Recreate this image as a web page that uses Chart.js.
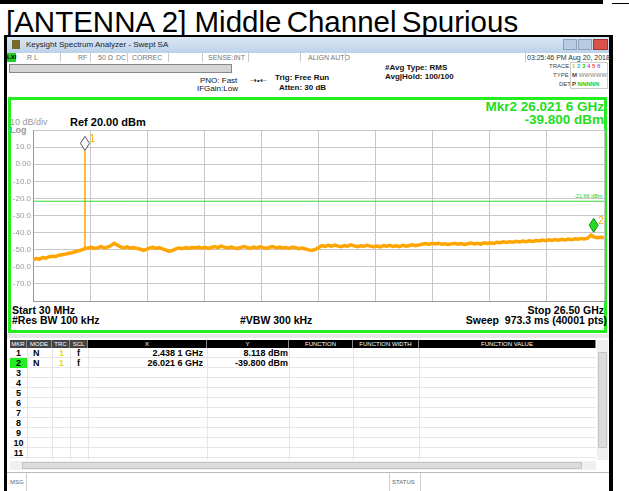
<!DOCTYPE html>
<html>
<head>
<meta charset="utf-8">
<script src="https://cdn.jsdelivr.net/npm/chart.js@4.4.1/dist/chart.umd.min.js"></script>
<style>
  html, body { margin: 0; padding: 0; background: #fff; }
  body { width: 629px; height: 491px; position: relative; overflow: hidden; font-family: "Liberation Sans", Arial, sans-serif; }
  .abs { position: absolute; white-space: nowrap; }
  #spectrum { position: absolute; left: 0; top: 0; z-index: 5; pointer-events: none; }
  .sb { font-size: 7px; color: #777; top: 54px; line-height: 8px; }
  .sep { position: absolute; top: 53px; width: 1px; height: 9px; background: #c8c8c8; }
  .info { font-size: 8px; font-weight: bold; color: #111; line-height: 9px; }
  .small { font-size: 6px; color: #444; line-height: 8px; }
  .plotTxt { font-weight: bold; color: #000; font-size: 10.5px; line-height: 11px; }
  .hdr { position: absolute; top: 340px; height: 8px; background: #000; color: #fff; font-size: 6px; line-height: 8px; text-align: center; box-sizing: border-box; border-right: 1px solid #888; }
  .row { position: absolute; left: 10px; width: 586px; height: 10px; border-bottom: 1px solid #e6e6e6; box-sizing: border-box; }
  .cell { position: absolute; font-size: 9px; font-weight: bold; line-height: 10px; color: #000; }
  .vline { position: absolute; top: 348px; height: 112px; width: 1px; background: #e6e6e6; }
</style>
</head>
<body>
<!-- page heading -->
<div class="abs" style="left:0;top:0;width:603px;height:4px;background:#000"></div>
<div class="abs" style="left:612px;top:3px;width:17px;height:1px;background:#000"></div>
<div class="abs" style="left:6px;top:7px;font-size:29.5px;line-height:29px;color:#000">[ANTENNA 2] <span style="word-spacing:-3px">Middle Channel Spurious</span></div>

<!-- analyzer window frame -->
<div class="abs" style="left:4px;top:35px;width:609px;height:456px;background:#000"></div>
<div class="abs" style="left:7px;top:37px;width:602px;height:16px;background:linear-gradient(#dbe7f5,#bcd2ea)"></div>
<div class="abs" style="left:12px;top:40px;width:8px;height:9px;background:#7a6a2a"></div>
<div class="abs" style="left:26px;top:40px;font-size:8px;line-height:10px;color:#222">Keysight Spectrum Analyzer - Swept SA</div>
<div class="abs" style="left:563px;top:39px;width:14px;height:11px;background:#b8cbe2;border:1px solid #8aa0bb;box-sizing:border-box"></div>
<div class="abs" style="left:578px;top:39px;width:14px;height:11px;background:#b8cbe2;border:1px solid #8aa0bb;box-sizing:border-box"></div>
<div class="abs" style="left:593px;top:39px;width:15px;height:11px;background:#d9534a;border:1px solid #a33;box-sizing:border-box"></div>

<!-- status strip -->
<div class="abs" style="left:7px;top:53px;width:602px;height:9px;background:#fff"></div>
<div class="abs" style="left:7px;top:53px;width:9px;height:9px;background:#22cc22;font-size:6px;line-height:9px;color:#000;font-weight:bold">LXI</div>
<div class="abs sb" style="left:27px">R L</div>
<div class="abs sb" style="left:78px">RF</div>
<div class="abs sb" style="left:98px">50 Ω</div>
<div class="abs sb" style="left:116px">DC</div>
<div class="abs sb" style="left:132px">CORREC</div>
<div class="abs sb" style="left:208px">SENSE:INT</div>
<div class="abs sb" style="left:308px">ALIGN AUTO</div>
<div class="abs sb" style="left:527px;color:#333">03:25:46 PM Aug 20, 2018</div>
<div class="sep" style="left:60px"></div>
<div class="sep" style="left:90px"></div>
<div class="sep" style="left:127px"></div>
<div class="sep" style="left:168px"></div>
<div class="sep" style="left:202px"></div>
<div class="sep" style="left:248px"></div>
<div class="sep" style="left:300px"></div>
<div class="sep" style="left:345px"></div>
<div class="sep" style="left:525px"></div>

<!-- settings panel -->
<div class="abs" style="left:7px;top:62px;width:602px;height:35px;background:#fff"></div>
<div class="abs" style="left:9px;top:64px;width:223px;height:9px;background:#d4d4d4;border:1px solid #888;box-sizing:border-box"></div>
<div class="abs info" style="left:200px;top:76px;font-weight:normal">PNO: Fast</div>
<div class="abs info" style="left:197px;top:84px;font-weight:normal">IFGain:Low</div>
<div class="abs info" style="left:250px;top:76px;font-weight:normal">⇢•⇠</div>
<div class="abs info" style="left:275px;top:73px">Trig: Free Run</div>
<div class="abs info" style="left:279px;top:83px">Atten: 30 dB</div>
<div class="abs info" style="left:385px;top:63px">#Avg Type: RMS</div>
<div class="abs info" style="left:385px;top:72px">Avg|Hold: 100/100</div>
<div class="abs small" style="left:549px;top:62px">TRACE</div>
<div class="abs small" style="left:553px;top:71px">TYPE</div>
<div class="abs small" style="left:559px;top:80px">DET</div>
<div class="abs" style="left:570px;top:62px;width:38px;height:27px;border:1px solid #ccc;box-sizing:border-box"></div>
<div class="abs small" style="left:572px;top:62px;font-weight:bold"><span style="color:#e0c000">1</span> <span style="color:#22bbee">2</span> <span style="color:#22cc22">3</span> <span style="color:#ee33ee">4</span> <span style="color:#ff4444">5</span> <span style="color:#9966ff">6</span></div>
<div class="abs small" style="left:572px;top:71px;font-weight:bold">M <span style="color:#aaa">WWWWW</span></div>
<div class="abs small" style="left:572px;top:80px;font-weight:bold">P <span style="color:#22cc22">NNNNN</span></div>

<!-- graph panel -->
<div class="abs" style="left:7px;top:97px;width:602px;height:237px;background:#fff"></div>
<div class="abs" style="left:8px;top:97px;width:599px;height:236px;border:3px solid #22ee22;box-sizing:border-box"></div>
<div class="abs" style="left:10px;top:117px;font-size:9px;line-height:10px;color:#999">10 dB/div</div>
<div class="abs" style="left:10px;top:125px;font-size:9px;line-height:10px;color:#999;font-weight:bold">Log</div>
<div class="abs plotTxt" style="left:70px;top:117px;font-size:11px">Ref 20.00 dBm</div>
<div class="abs" style="right:25px;top:100px;font-size:13.5px;line-height:13px;font-weight:bold;color:#22dd22;text-align:right">Mkr2 26.021 6 GHz<br>-39.800 dBm</div>
<div class="abs" style="left:574px;top:193px;font-size:5.5px;line-height:6px;color:#22cc22">-21.66 dBm</div>
<div class="abs plotTxt" style="left:12px;top:305px">Start 30 MHz</div>
<div class="abs plotTxt" style="left:12px;top:315px">#Res BW 100 kHz</div>
<div class="abs plotTxt" style="left:240px;top:315px">#VBW 300 kHz</div>
<div class="abs plotTxt" style="right:25px;top:305px">Stop 26.50 GHz</div>
<div class="abs plotTxt" style="right:22px;top:315px">Sweep&nbsp; 973.3 ms (40001 pts)</div>

<!-- marker table -->
<div class="abs" style="left:7px;top:334px;width:602px;height:157px;background:#fff"></div>
<div class="abs" style="left:7px;top:334px;width:602px;height:4px;background:#e8e8e8"></div>
<div class="hdr" style="left:10px;width:17px;background:#444">MKR</div>
<div class="hdr" style="left:27px;width:25px;background:#444">MODE</div>
<div class="hdr" style="left:52px;width:18px;background:#444">TRC</div>
<div class="hdr" style="left:70px;width:18px;background:#444">SCL</div>
<div class="hdr" style="left:88px;width:119px">X</div>
<div class="hdr" style="left:207px;width:82px">Y</div>
<div class="hdr" style="left:289px;width:64px">FUNCTION</div>
<div class="hdr" style="left:353px;width:66px">FUNCTION WIDTH</div>
<div class="hdr" style="left:419px;width:177px">FUNCTION VALUE</div>
<div id="rows"></div>
<div class="vline" style="left:27px"></div>
<div class="vline" style="left:52px"></div>
<div class="vline" style="left:70px"></div>
<div class="vline" style="left:88px"></div>
<div class="vline" style="left:207px"></div>
<div class="vline" style="left:289px"></div>
<div class="vline" style="left:353px"></div>
<div class="vline" style="left:419px"></div>
<div class="abs" style="left:597px;top:340px;width:11px;height:120px;background:#f0f0f0"></div>
<div class="abs" style="left:598px;top:352px;width:9px;height:96px;background:#dcdcdc;border:1px solid #c4c4c4;box-sizing:border-box"></div>
<div class="abs" style="left:10px;top:461px;width:586px;height:9px;background:#f0f0f0"></div>
<div class="abs" style="left:22px;top:462px;width:560px;height:7px;background:#dcdcdc;border:1px solid #c4c4c4;box-sizing:border-box"></div>
<div class="abs" style="left:7px;top:472px;width:602px;height:1px;background:#bbb"></div>
<div class="abs" style="left:10px;top:479px;font-size:6px;color:#666">MSG</div>
<div class="abs" style="left:26px;top:473px;width:1px;height:18px;background:#ccc"></div>
<div class="abs" style="left:389px;top:473px;width:1px;height:18px;background:#ccc"></div>
<div class="abs" style="left:392px;top:479px;font-size:6px;color:#666">STATUS</div>
<div class="abs" style="left:420px;top:473px;width:1px;height:18px;background:#ccc"></div>

<canvas id="spectrum" width="629" height="491"></canvas>

<script>
// sweep settings (GHz / dBm)
const sweepStart = 0.03;
const sweepStop = 26.5;
const refLevel = 20;
const bottomLevel = -80;
const limitLevel = -21.66;

// trace 1, averaged RMS, evenly spaced across the sweep
const traceLevels = [
    -55.8, -55.2, -55.5, -54.6, -54.9, -54.1, -53.8, -54.0, -53.2, -52.9, -52.6, -52.1, -51.8, -51.2, -50.7, -50.1, -49.4,
    -49.0, -48.6, -49.3, -48.8, -48.2, -48.9, -48.5, -47.6, -46.3, -47.2, -48.4, -48.9, -48.3, -49.1, -48.7, -49.3,
    -49.6, -50.4, -49.8, -49.0, -48.6, -49.3, -48.8, -49.6, -50.2, -51.0, -50.4, -49.5, -49.0, -49.4, -48.8, -49.2, -48.7,
    -48.9, -48.4, -49.1, -48.6, -49.3, -48.7, -48.2, -48.8, -47.9, -48.5, -49.0, -48.4, -48.9, -49.4, -48.6, -48.1, -48.7,
    -49.2, -48.5, -48.9, -48.3, -48.8, -49.3, -48.6, -48.2, -48.9, -48.4, -49.0, -48.7, -49.2, -48.5, -48.9, -49.4, -49.0,
    -49.6, -50.1, -50.4, -49.8, -48.9,
    -47.6, -48.1, -47.5, -48.0, -47.3, -47.9, -48.2, -47.6, -47.9, -47.2, -47.8, -48.3, -47.7, -48.0, -47.4, -47.9, -48.2,
    -47.8, -48.3, -47.6, -48.0, -47.5, -48.1, -47.7, -48.2, -47.4, -47.9, -47.5, -47.1, -47.6, -47.2,
    -46.8, -46.4, -46.9, -46.3, -46.7, -46.2, -46.8, -46.5, -47.0, -46.6, -46.3, -46.8, -46.4, -46.9, -46.5, -46.1, -46.6,
    -46.2, -46.7, -46.0, -46.4,
    -45.9, -46.3, -45.7, -45.9, -45.4, -45.8, -45.3, -45.6, -45.1, -45.5, -44.9, -45.3, -44.8, -45.2, -44.6, -44.9, -44.4, -44.7,
    -44.2, -44.6, -44.1, -44.4, -43.9, -44.3, -43.8, -44.1, -43.6, -43.9, -43.4, -43.7, -43.3, -41.5, -42.6, -43.0, -42.7, -43.1
];

// markers
const markerNames = ['1', '2'];
const markerFreqs = [2.4381, 26.0216];
const markerLevels = [8.118, -39.8];
const markerXText = ['2.438 1 GHz', '26.021 6 GHz'];
const markerYText = ['8.118 dBm', '-39.800 dBm'];
const spikeFloor = -49.4; // trace level under the carrier

const gridDivs = 10;

// marker table rows
const rowsEl = document.getElementById('rows');
for (let i = 0; i < 11; i++) {
    const top = 348 + i * 10;
    let html = `<div class="row" style="top:${top}px"></div>`;
    const isActive = i === 1;
    html += `<div class="cell" style="left:10px;top:${top}px;width:17px;text-align:center;${isActive ? 'background:#22ee22;' : ''}">${i + 1}</div>`;
    if (i < markerNames.length) {
        html += `<div class="cell" style="left:33px;top:${top}px">N</div>`;
        html += `<div class="cell" style="left:59px;top:${top}px;color:#f0e000">1</div>`;
        html += `<div class="cell" style="left:77px;top:${top}px">f</div>`;
        html += `<div class="cell" style="right:${629 - 203}px;top:${top}px">${markerXText[i]}</div>`;
        html += `<div class="cell" style="right:${629 - 288}px;top:${top}px">${markerYText[i]}</div>`;
    }
    rowsEl.insertAdjacentHTML('beforeend', html);
}

const sweepStep = (sweepStop - sweepStart) / (traceLevels.length - 1);
const tracePoints = traceLevels.map((v, i) => ({ x: sweepStart + i * sweepStep, y: v }));

// draws the marker diamonds above their points
const markerPlugin = {
    id: 'markers',
    afterDatasetsDraw(chart) {
        const ctx = chart.ctx;
        const xs = chart.scales.x;
        const ys = chart.scales.y;
        markerNames.forEach((name, i) => {
            const px = xs.getPixelForValue(markerFreqs[i]);
            const py = ys.getPixelForValue(markerLevels[i]);
            const w = 4.5, h = 7;
            ctx.save();
            ctx.beginPath();
            ctx.moveTo(px, py);
            ctx.lineTo(px + w, py - h);
            ctx.lineTo(px, py - 2 * h);
            ctx.lineTo(px - w, py - h);
            ctx.closePath();
            ctx.fillStyle = i === 1 ? '#22dd22' : '#ffffff';
            ctx.fill();
            ctx.lineWidth = 1;
            ctx.strokeStyle = i === 1 ? '#118811' : '#555555';
            ctx.stroke();
            ctx.fillStyle = '#ffa500';
            ctx.font = '10px "Liberation Sans", Arial';
            ctx.textBaseline = 'top';
            ctx.fillText(name, px + w, py - 2 * h - 2);
            ctx.restore();
        });
    }
};

new Chart(document.getElementById('spectrum'), {
    type: 'line',
    data: {
        datasets: [{
            label: 'Limit',
            data: [{ x: sweepStart, y: limitLevel }, { x: sweepStop, y: limitLevel }],
            borderColor: '#33dd33',
            borderWidth: 1,
            pointRadius: 0
        }, {
            label: 'Carrier',
            data: [{ x: markerFreqs[0], y: spikeFloor }, { x: markerFreqs[0], y: markerLevels[0] }],
            borderColor: '#ffa500',
            borderWidth: 1.5,
            pointRadius: 0
        }, {
            label: 'Trace 1',
            data: tracePoints,
            borderColor: '#ffa500',
            borderWidth: 3.5,
            pointRadius: 0,
            tension: 0
        }]
    },
    options: {
        responsive: false,
        animation: false,
        devicePixelRatio: 1,
        layout: { padding: { left: 10, top: 130, right: 25, bottom: 190 } },
        plugins: { legend: { display: false }, tooltip: { enabled: false } },
        scales: {
            x: {
                type: 'linear',
                min: sweepStart,
                max: sweepStop,
                afterBuildTicks: (scale) => {
                    const ticks = [];
                    for (let i = 0; i <= gridDivs; i++) {
                        ticks.push({ value: sweepStart + i * (sweepStop - sweepStart) / gridDivs });
                    }
                    scale.ticks = ticks;
                },
                afterFit: (scale) => { scale.height = 0; },
                grid: { color: '#c8c8c8', drawTicks: false },
                border: { color: '#999999' },
                ticks: { display: false }
            },
            y: {
                min: bottomLevel,
                max: refLevel,
                afterFit: (scale) => { scale.width = 23; },
                grid: { color: '#c8c8c8', drawTicks: false },
                border: { color: '#999999' },
                ticks: {
                    stepSize: 10,
                    padding: 2,
                    color: '#999999',
                    font: { family: '"Liberation Sans", Arial', size: 8 },
                    callback: (v) => {
                        if (v === refLevel || v === bottomLevel) return '';
                        if (v === 0) return '0.00';
                        return v.toFixed(1);
                    }
                }
            }
        }
    },
    plugins: [markerPlugin]
});
</script>
</body>
</html>
